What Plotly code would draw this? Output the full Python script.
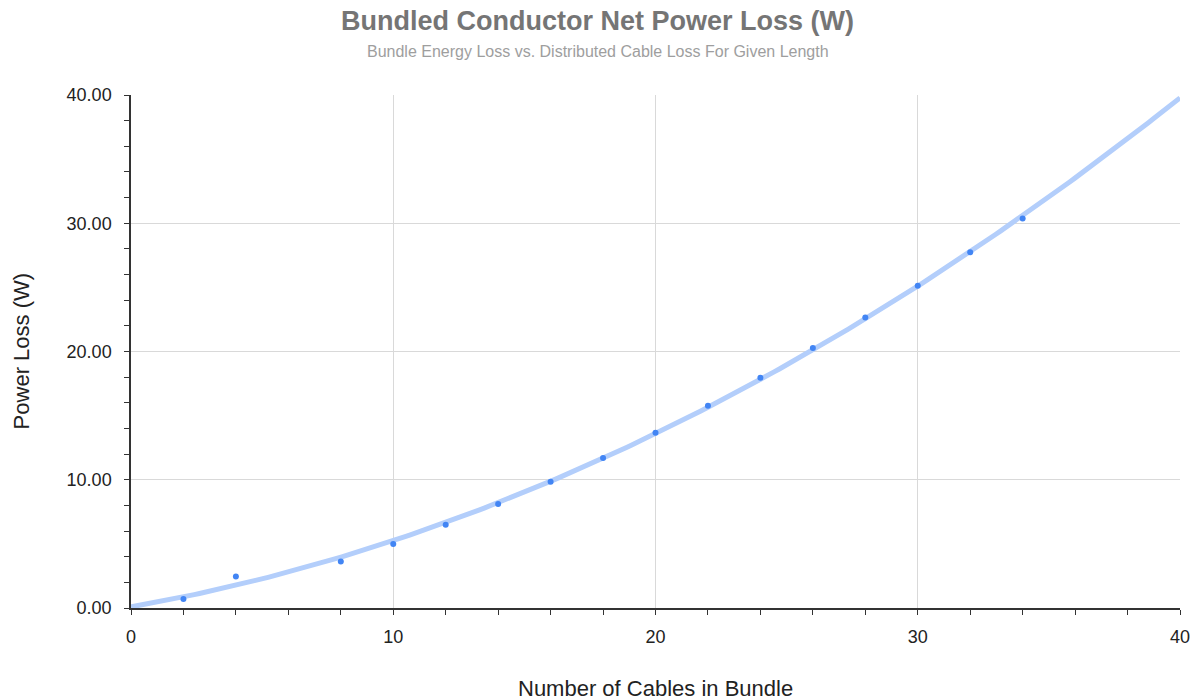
import numpy as np
import plotly.graph_objects as go

cables = [2, 4, 8, 10, 12, 14, 16, 18, 20, 22, 24, 26, 28, 30, 32, 34]
power_loss = [0.70, 2.46, 3.63, 4.99, 6.50, 8.11, 9.85, 11.70, 13.67, 15.77,
              17.96, 20.27, 22.66, 25.13, 27.73, 30.38]
x_ticks = [0, 10, 20, 30, 40]
y_ticks = [0, 10, 20, 30, 40]

# polynomial trendline (degree 2) fitted to the data, drawn over the x-axis range
coef = np.polyfit(cables, power_loss, 2)
tx = np.linspace(0, 40, 200)
ty = np.polyval(coef, tx)

fig = go.Figure()
fig.add_trace(go.Scatter(x=tx, y=ty, mode="lines",
                         line=dict(color="#b3cefb", width=5),
                         hoverinfo="skip", showlegend=False))
fig.add_trace(go.Scatter(x=cables, y=power_loss, mode="markers",
                         marker=dict(color="#4285f4", size=6),
                         showlegend=False))

FONT = "Liberation Sans, Arial, sans-serif"
fig.update_layout(
    width=1197, height=700,
    margin=dict(l=131, r=17, t=95, b=92, autoexpand=False),
    paper_bgcolor="white", plot_bgcolor="white",
    font=dict(family=FONT, color="#222222"),
    annotations=[
        dict(text="<b>Bundled Conductor Net Power Loss (W)</b>", x=0.445, y=1.144,
             xref="paper", yref="paper", xanchor="center", yanchor="middle",
             showarrow=False, font=dict(size=27, color="#757575", family=FONT)),
        dict(text="Bundle Energy Loss vs. Distributed Cable Loss For Given Length",
             x=0.445, y=1.084, xref="paper", yref="paper", xanchor="center",
             yanchor="middle", showarrow=False,
             font=dict(size=16, color="#9e9e9e", family=FONT)),
        dict(text="Number of Cables in Bundle", x=0.5, y=-0.156,
             xref="paper", yref="paper", xanchor="center", yanchor="middle",
             showarrow=False, font=dict(size=22, color="#222222", family=FONT)),
        dict(text="Power Loss (W)", x=-0.104, y=0.5, textangle=-90,
             xref="paper", yref="paper", xanchor="center", yanchor="middle",
             showarrow=False, font=dict(size=22, color="#222222", family=FONT)),
    ],
)
fig.update_xaxes(
    range=[0, 40], tickvals=x_ticks, ticktext=[str(v) for v in x_ticks],
    showgrid=True, gridcolor="#d9d9d9", gridwidth=1,
    showline=True, linecolor="#333333", linewidth=1.5,
    zeroline=False, ticks="", ticklabelstandoff=12, automargin=False,
    tickfont=dict(size=18, color="#222222"),
    minor=dict(dtick=2, ticks="outside", ticklen=5, tickcolor="#333333", showgrid=False),
)
fig.update_yaxes(
    range=[0, 40], tickvals=y_ticks, ticktext=[f"{v:.2f}" for v in y_ticks],
    showgrid=True, gridcolor="#d9d9d9", gridwidth=1,
    showline=True, linecolor="#333333", linewidth=1.5,
    zeroline=False, ticks="", ticklabelstandoff=14, automargin=False,
    tickfont=dict(size=18, color="#222222"),
    minor=dict(dtick=2, ticks="outside", ticklen=5, tickcolor="#333333", showgrid=False),
)

fig.write_html("out.html", config={"displayModeBar": False},
               post_script="document.body.style.margin='0';")
